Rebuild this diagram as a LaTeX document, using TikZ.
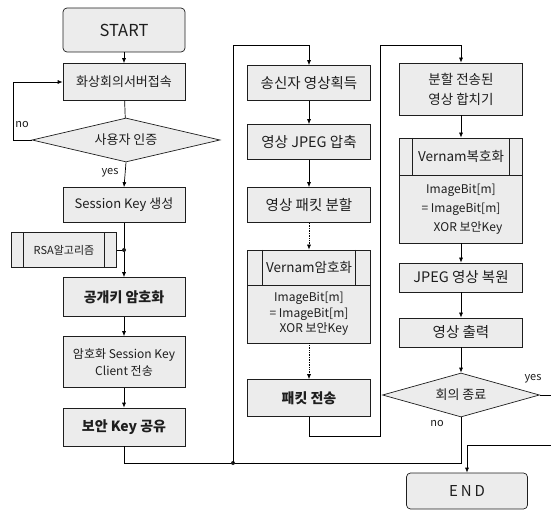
\documentclass[tikz,border=0pt]{standalone}
\usepackage{fontspec}
\setmainfont{Noto Sans CJK KR}
\usepackage{tikz}
\usetikzlibrary{arrows.meta,shapes.geometric}
\definecolor{ink}{HTML}{1E1E1E}
\definecolor{softgray}{HTML}{ECECEC}

\begin{document}
\begin{tikzpicture}[x=1pt,y=-1pt,>={Latex[length=5pt,width=4pt]},line width=.7pt,
  every node/.style={font=\fontsize{13}{16}\selectfont,text=ink},
  box/.style={draw=ink,fill=softgray,minimum width=122pt,minimum height=36pt,inner sep=2pt,align=center},
  term/.style={box,rounded corners=4pt},
  bars/.style={box,path picture={\draw[ink] ([xshift=#1]path picture bounding box.north west) -- ([xshift=#1]path picture bounding box.south west)
     ([xshift=-#1]path picture bounding box.north east) -- ([xshift=-#1]path picture bounding box.south east);}},
  bars/.default=14pt,
  cond/.style={draw=ink,fill=softgray,diamond,aspect=4,inner sep=0pt},
  dot/.style={circle,fill=ink,inner sep=0pt,minimum size=4pt},
  lbl/.style={font=\fontsize{11}{13}\selectfont},
  big/.style={font=\fontsize{14}{16}\selectfont\bfseries},
  wide/.style={font=\fontsize{14.5}{17}\selectfont}]
\clip (0,0) rectangle (551,510);
% left column: login and key exchange
\node[term,minimum height=44pt,font=\fontsize{16.5}{18}\selectfont] (start) at (124,30) {START};
\node[box,minimum height=37pt] (conn) at (124,82) {화상회의서버접속};
\node[cond,minimum width=188pt,minimum height=44pt] (auth) at (126,140) {사용자 인증};
\node[box,minimum height=35pt] (skey) at (124,205) {Session Key 생성};
\node[bars=12pt,minimum width=105pt,minimum height=35pt,font=\fontsize{11}{13}\selectfont] (rsa) at (64,250) {RSA알고리즘};
\node[box,big,minimum height=39pt] (pub) at (124,297) {공개키 암호화};
\node[box,minimum height=51pt,font=\fontsize{12}{17}\selectfont] (cli) at (124,362) {암호화 Session Key\\Client 전송};
\node[box,big,minimum height=38pt] (share) at (124,427) {보안 Key 공유};
% middle column: sender
\node[box,wide,minimum width=123pt,minimum height=35pt] (cap) at (309,83) {송신자 영상획득};
\node[box,wide,minimum width=123pt,minimum height=35pt] (jpg) at (309,142) {영상 JPEG 압축};
\node[box,wide,minimum width=123pt,minimum height=35pt] (split) at (309,205) {영상 패킷 분할};
\node[bars=15pt,minimum width=123pt,minimum height=35pt,font=\fontsize{13.5}{16}\selectfont] (enc) at (309,267.5) {Vernam암호화};
\node[box,minimum width=123pt,minimum height=58pt,font=\fontsize{12}{15.5}\selectfont] (encb) at (309,314) {ImageBit[m]\\= ImageBit[m]\\\hspace*{10pt}XOR 보안Key};
\node[box,big,minimum width=123pt,minimum height=37pt] (send) at (309,398) {패킷 전송};
% right column: receiver
\node[box,minimum width=123pt,minimum height=52pt,font=\fontsize{13.5}{20}\selectfont] (merge) at (461,89) {분할 전송된\\영상 합치기};
\node[bars=13pt,minimum width=123pt,minimum height=37pt,font=\fontsize{13.5}{16}\selectfont] (dec) at (461,156.5) {Vernam복호화};
\node[box,minimum width=123pt,minimum height=68pt,font=\fontsize{12}{19}\selectfont] (decb) at (461,209) {ImageBit[m]\\= ImageBit[m]\\\hspace*{14pt}XOR 보안Key};
\node[box,wide,minimum width=123pt,minimum height=29pt] (rest) at (461,277.5) {JPEG 영상 복원};
\node[box,wide,minimum width=123pt,minimum height=29pt] (out) at (461,332.5) {영상 출력};
\node[cond,minimum width=157pt,minimum height=44pt] (quit) at (461,395) {회의 종료};
\node[term,minimum width=121pt,minimum height=36pt,font=\fontsize{15}{18}\selectfont] (fin) at (467,491) {E\hspace{3pt}N\hspace{3pt}D};
% labels
\node[lbl] (no1) at (22,125) {no};
\node[lbl] (yes1) at (110,173) {yes};
\node[lbl] (no2) at (437,424) {no};
\node[lbl] (yes2) at (533,379) {yes};
% connectors
\coordinate (j) at (233,463);
\coordinate (lt) at (233,45);
\coordinate (rb) at (380,436);
\coordinate (rt) at (380,45);
\coordinate (ry) at (553,445);
\draw[->] (start) -- (conn);
\draw (conn) -- (auth);
\draw[->] (auth.west) -- ++(-18,0) |- (conn.west);
\draw[->] (auth.south) -- (skey.north);
\draw[->] (skey) -- (pub);
\draw (rsa.east) -- (rsa.east -| skey.south) node[dot] {};
\draw[->] (pub) -- (cli);
\draw[->] (cli) -- (share);
\draw (share.south) |- (j);
\draw (quit.south) |- (j);
\node[dot] at (j) {};
\draw[->] (j) -- (lt) -| (cap.north);
\draw[->] (cap) -- (jpg);
\draw[->] (jpg) -- (split);
\draw[->,densely dotted] (split) -- (enc);
\draw[->,densely dotted] (encb) -- (send);
\draw[->] (send.south) |- (rb) -- (rt) -| (merge.north);
\draw[->] (merge) -- (dec);
\draw[->] (decb) -- (rest);
\draw[->] (rest) -- (out);
\draw[->] (out) -- (quit);
\draw[->] (quit.east) -| (ry) -| (fin.north);
\end{tikzpicture}
\end{document}
